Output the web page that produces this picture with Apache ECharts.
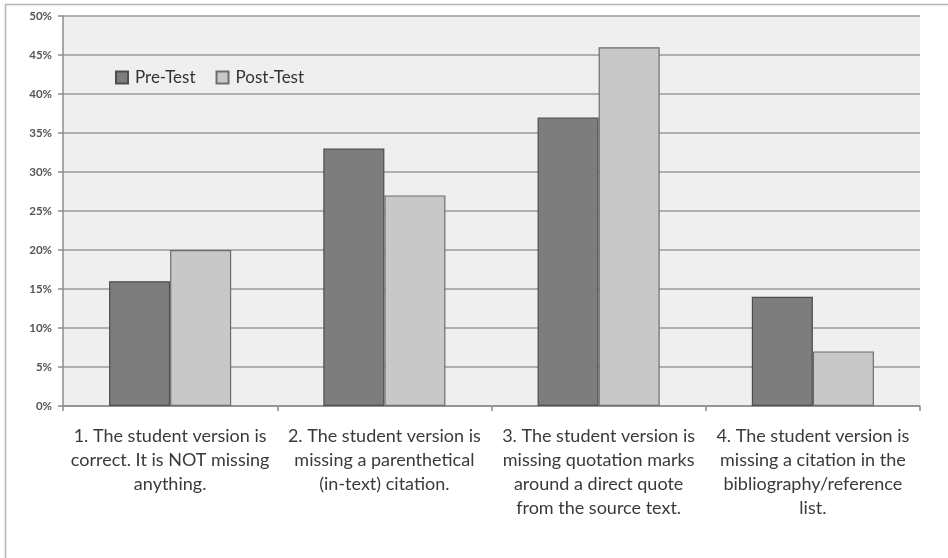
<!DOCTYPE html>
<html>
<head>
<meta charset="utf-8">
<script src="https://cdn.jsdelivr.net/npm/echarts@6/dist/echarts.min.js"></script>
<style>
  html, body { margin: 0; padding: 0; background: #ffffff; }
  #chart { width: 948px; height: 558px; }
</style>
</head>
<body>
<div id="chart"></div>
<script>
// Citation error types, share of responses before and after instruction
const categories = [
  '1. The student version is\ncorrect. It is NOT missing\nanything.',
  '2. The student version is\nmissing a parenthetical\n(in-text) citation.',
  '3. The student version is\nmissing quotation marks\naround a direct quote\nfrom the source text.',
  '4. The student version is\nmissing a citation in the\nbibliography/reference\nlist.'
];
const preTest = [16, 33, 37, 14];
const postTest = [20, 27, 46, 7];

const FONT = 'Lato, "Open Sans", sans-serif';

const chart = echarts.init(document.getElementById('chart'), null, { renderer: 'canvas' });

chart.setOption({
  animation: false,
  backgroundColor: '#ffffff',
  graphic: [
    {
      type: 'rect',
      shape: { x: 5.5, y: 4.5, width: 960, height: 570 },
      style: { fill: 'none', stroke: '#b4b4b4', lineWidth: 1.5 },
      silent: true,
      z: -1
    }
  ],
  legend: {
    left: 110,
    top: 64,
    itemWidth: 12,
    itemHeight: 12,
    itemGap: 20,
    icon: 'rect',
    textStyle: { fontFamily: FONT, fontSize: 17, color: '#333', padding: [0, 0, 0, 2] },
    data: ['Pre-Test', 'Post-Test']
  },
  grid: {
    left: 63,
    right: 28,
    top: 16,
    bottom: 152,
    show: true,
    backgroundColor: '#efefef',
    borderWidth: 0
  },
  xAxis: {
    type: 'category',
    data: categories,
    axisLine: { lineStyle: { color: '#8c8c8c', width: 1.5 } },
    axisTick: { show: true, length: 5, lineStyle: { color: '#8c8c8c', width: 1.5 } },
    axisLabel: {
      interval: 0,
      margin: 18,
      fontFamily: FONT,
      fontSize: 18,
      lineHeight: 24,
      color: '#3a3a3a',
      align: 'center'
    }
  },
  yAxis: {
    type: 'value',
    min: 0,
    max: 50,
    interval: 5,
    axisLine: { show: true, lineStyle: { color: '#8c8c8c', width: 1.5 } },
    axisTick: { show: true, length: 5, lineStyle: { color: '#8c8c8c', width: 1.5 } },
    splitLine: { lineStyle: { color: '#9a9a9a', width: 1.5 } },
    axisLabel: {
      formatter: '{value}%',
      margin: 11,
      fontFamily: FONT,
      fontSize: 11.5,
      fontWeight: 'bold',
      color: '#555'
    }
  },
  series: [
    {
      name: 'Pre-Test',
      type: 'bar',
      data: preTest,
      barGap: '0%',
      barCategoryGap: '43%',
      itemStyle: { color: '#7d7d7d', borderColor: '#4e4e4e', borderWidth: 1.2 }
    },
    {
      name: 'Post-Test',
      type: 'bar',
      data: postTest,
      itemStyle: { color: '#c8c8c8', borderColor: '#6e6e6e', borderWidth: 1.2 }
    }
  ]
});
</script>
</body>
</html>
